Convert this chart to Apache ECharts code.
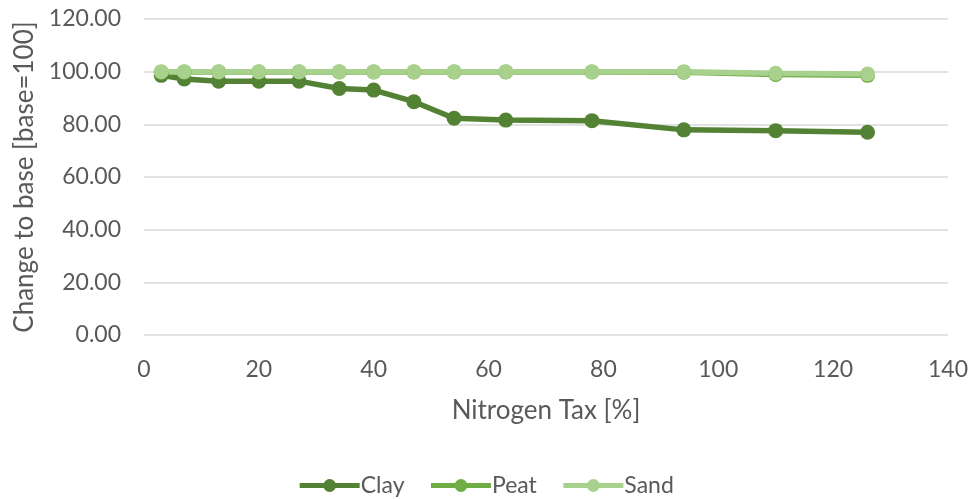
<!DOCTYPE html>
<html>
<head>
<meta charset="utf-8">
<script src="https://cdn.jsdelivr.net/npm/echarts@6/dist/echarts.min.js"></script>
<style>
html,body{margin:0;padding:0;background:#fff;}
#chart{width:971px;height:499px;}
</style>
</head>
<body>
<div id="chart"></div>
<script>
const taxLevels = [3, 7, 13, 20, 27, 34, 40, 47, 54, 63, 78, 94, 110, 126];
const clayValues = [98.6, 97.2, 96.4, 96.4, 96.4, 93.6, 93.0, 88.6, 82.3, 81.6, 81.4, 77.9, 77.6, 77.0];
const peatValues = [99.8, 99.9, 99.9, 99.9, 99.9, 99.9, 99.9, 99.9, 99.9, 99.9, 99.9, 99.8, 98.9, 98.6];
const sandValues = [100, 100, 100, 100, 100, 100, 100, 100, 100, 100, 100, 100, 99.4, 99.1];
const seriesNames = ['Clay', 'Peat', 'Sand'];
const seriesColors = ['#548235', '#70AD47', '#A9D18E'];
const xTicks = [0, 20, 40, 60, 80, 100, 120, 140];
const yTicks = [0, 20, 40, 60, 80, 100, 120];

const allValues = [clayValues, peatValues, sandValues];
const font = 'Lato, "Open Sans", sans-serif';
const textColor = '#595959';

const chart = echarts.init(document.getElementById('chart'), null, {renderer: 'canvas'});
chart.setOption({
  animation: false,
  backgroundColor: '#fff',
  textStyle: {fontFamily: font, color: textColor},
  grid: {left: 144, right: 21, top: 19, bottom: 164, containLabel: false},
  legend: {
    top: 469,
    left: 'center',
    itemWidth: 60,
    itemHeight: 16,
    itemGap: 24,
    data: seriesNames,
    lineStyle: {width: 5},
    textStyle: {fontFamily: font, fontSize: 23, color: textColor, padding: [0, 0, 0, -4]}
  },
  xAxis: {
    type: 'value',
    min: xTicks[0],
    max: xTicks[xTicks.length - 1],
    interval: 20,
    name: 'Nitrogen Tax [%]',
    nameLocation: 'middle',
    nameGap: 63,
    nameTextStyle: {fontFamily: font, fontSize: 26, color: textColor},
    axisLine: {show: false},
    axisTick: {show: false},
    splitLine: {show: false},
    axisLabel: {fontFamily: font, fontSize: 23, color: textColor, margin: 23}
  },
  yAxis: {
    type: 'value',
    min: yTicks[0],
    max: yTicks[yTicks.length - 1],
    interval: 20,
    name: 'Change to base [base=100]',
    nameLocation: 'middle',
    nameGap: 106,
    nameTextStyle: {fontFamily: font, fontSize: 26, color: textColor},
    axisLine: {show: false},
    axisTick: {show: false},
    splitLine: {show: true, lineStyle: {color: '#d9d9d9', width: 1.5}},
    axisLabel: {fontFamily: font, fontSize: 23, color: textColor, margin: 23,
      formatter: v => v.toFixed(2)}
  },
  series: seriesNames.map((name, i) => ({
    name: name,
    type: 'line',
    data: taxLevels.map((x, j) => [x, allValues[i][j]]),
    symbol: 'circle',
    symbolSize: 15,
    showSymbol: true,
    color: seriesColors[i],
    lineStyle: {width: 5.5, color: seriesColors[i]},
    itemStyle: {color: seriesColors[i], borderWidth: 0}
  }))
});
</script>
</body>
</html>
